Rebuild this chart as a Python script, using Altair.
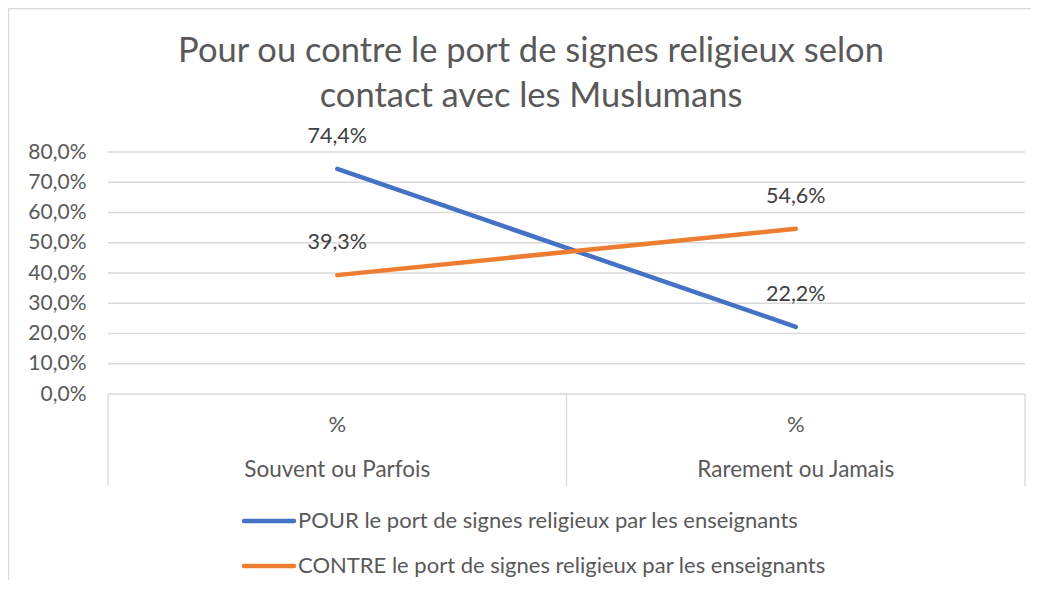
import altair as alt
import pandas as pd

title_lines = ["Pour ou contre le port de signes religieux selon", "contact avec les Muslumans"]
categories = ["Souvent ou Parfois", "Rarement ou Jamais"]
sub_labels = ["%", "%"]
series_names = [
    "POUR le port de signes religieux par les enseignants",
    "CONTRE le port de signes religieux par les enseignants",
]
pour_values = [74.4, 22.2]
contre_values = [39.3, 54.6]
series_colors = ["#4472C4", "#ED7D31"]
y_ticks = [0, 10, 20, 30, 40, 50, 60, 70, 80]

FONT = "Lato"
W, H = 917, 242

rows = []
for s, vals in zip(series_names, [pour_values, contre_values]):
    for i, (c, v) in enumerate(zip(categories, vals)):
        rows.append({"series": s, "cat": c, "pos": i + 0.5, "value": v,
                     "label": f"{v:.1f}".replace(".", ",") + "%"})
df = pd.DataFrame(rows)

cat_df = pd.DataFrame({"cat": categories, "sub": sub_labels,
                       "pos": [i + 0.5 for i in range(len(categories))]})
sep_df = pd.DataFrame({"pos": list(range(len(categories) + 1))})
leg_df = pd.DataFrame({"series": series_names, "order": list(range(len(series_names)))})
title_df = pd.DataFrame({"t": title_lines, "i": list(range(len(title_lines)))})

xs = alt.Scale(domain=[0, len(categories)])
ys = alt.Scale(domain=[0, 80])
color = alt.Color("series:N", scale=alt.Scale(domain=series_names, range=series_colors), legend=None)

base = alt.Chart(df)

y_axis = alt.Axis(
    values=y_ticks, title=None, domain=False, ticks=False, grid=False, labelOverlap=False,
    labelExpr="replace(format(datum.value, '.1f'), '.', ',') + '%'",
    labelFont=FONT, labelFontSize=21, labelColor="#595959", labelPadding=22)

grid = alt.Chart(pd.DataFrame({"v": y_ticks})).mark_rule(color="#d9d9d9", strokeWidth=1.3).encode(
    y=alt.Y("v:Q", scale=ys, axis=y_axis),
    x=alt.value(0), x2=alt.value(W),
)

seps = alt.Chart(sep_df).mark_rule(color="#d9d9d9", strokeWidth=1.3).encode(
    x=alt.X("pos:Q", scale=xs, axis=None),
    y=alt.value(H), y2=alt.value(H + 92),
)

lines = base.mark_line(strokeWidth=4.5, strokeCap="round").encode(
    x=alt.X("pos:Q", scale=xs, axis=None),
    y=alt.Y("value:Q", scale=ys, axis=y_axis),
    color=color,
    detail="series:N",
)

labels = base.mark_text(font=FONT, fontSize=21.5, color="#404040", dy=-32).encode(
    x=alt.X("pos:Q", scale=xs, axis=None),
    y=alt.Y("value:Q", scale=ys, axis=y_axis),
    text="label:N",
)

cat_sub = alt.Chart(cat_df).mark_text(font=FONT, fontSize=22, color="#595959", baseline="middle").encode(
    x=alt.X("pos:Q", scale=xs, axis=None), y=alt.value(H + 31), text="sub:N")
cat_main = alt.Chart(cat_df).mark_text(font=FONT, fontSize=22.5, color="#595959", baseline="middle").encode(
    x=alt.X("pos:Q", scale=xs, axis=None), y=alt.value(H + 76), text="cat:N")

leg_layers = []
for k, ypix in enumerate([369, 414]):
    src = alt.Chart(leg_df).transform_filter(alt.datum.order == k)
    leg_layers.append(src.mark_rule(strokeWidth=4.5, strokeCap="round").encode(
        x=alt.value(136), x2=alt.value(186), y=alt.value(ypix), color=color))
    leg_layers.append(src.mark_text(font=FONT, fontSize=22, color="#595959", align="left",
                                    baseline="middle").encode(
        x=alt.value(190), y=alt.value(ypix), text="series:N"))

title_layers = []
for k, ypix in enumerate([-100, -55]):
    title_layers.append(alt.Chart(title_df).transform_filter(alt.datum.i == k).mark_text(
        font=FONT, fontSize=34.5, color="#595959", baseline="middle").encode(
        x=alt.value(423), y=alt.value(ypix), text="t:N"))

frame_left = alt.Chart(sep_df.head(1)).mark_rule(color="#d9d9d9", strokeWidth=1.3).encode(
    x=alt.value(-99.5), y=alt.value(-143.5), y2=alt.value(H + 300),
)
frame_top = alt.Chart(sep_df.head(1)).mark_rule(color="#d9d9d9", strokeWidth=1.3).encode(
    x=alt.value(-99.5), x2=alt.value(W + 6), y=alt.value(-143.5),
)

chart = alt.layer(frame_left, frame_top, grid, seps, lines, labels, cat_sub, cat_main,
                  *leg_layers, *title_layers).properties(
    width=W, height=H,
    padding={"left": 100, "top": 144, "right": 6, "bottom": 186},
    autosize=alt.AutoSizeParams(type="none"),
).configure_view(stroke=None)

chart.save("out.html", embed_options={"renderer": "svg", "actions": False})
